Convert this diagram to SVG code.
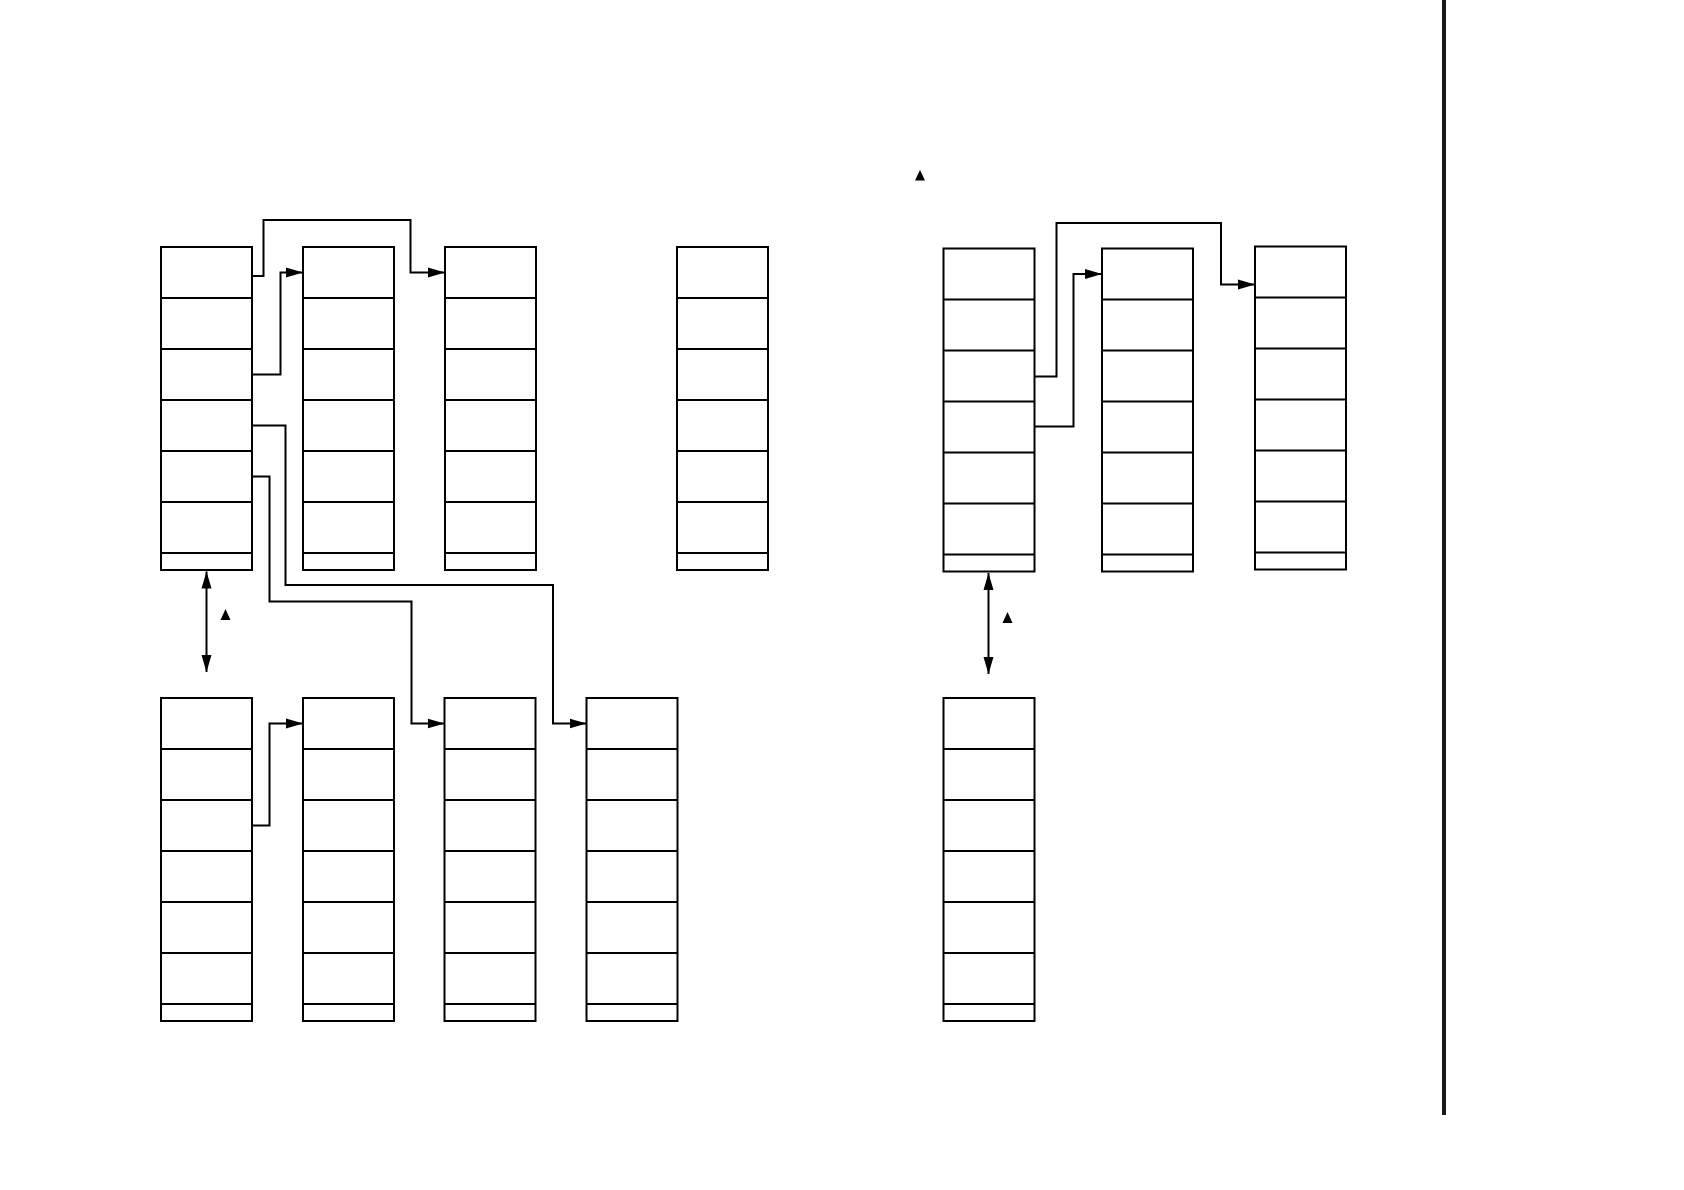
<svg xmlns="http://www.w3.org/2000/svg" width="1684" height="1190" viewBox="0 0 1684 1190">
<style>
.box rect{fill:#fff;stroke:#000;stroke-width:2}
.box path{fill:none;stroke:#000;stroke-width:2}
.conn{fill:none;stroke:#000;stroke-width:2}
.tri{fill:#000}
</style>
<defs>
<path id="cells" d="M0,51H91M0,102H91M0,153H91M0,204H91M0,255H91M0,306H91"/>
<marker id="arr" markerUnits="userSpaceOnUse" markerWidth="18" markerHeight="12" viewBox="0 0 18 12" refX="17" refY="6" orient="auto-start-reverse">
<path d="M0,1L17,6L0,11Z" fill="#000"/>
</marker>
</defs>
<rect width="1684" height="1190" fill="#fff"/>
<g id="box-A" class="box" transform="translate(161,247)"><rect width="91" height="323"/><use href="#cells" stroke="#000" stroke-width="2"/></g>
<g id="box-B" class="box" transform="translate(303,247)"><rect width="91" height="323"/><use href="#cells" stroke="#000" stroke-width="2"/></g>
<g id="box-C" class="box" transform="translate(445,247)"><rect width="91" height="323"/><use href="#cells" stroke="#000" stroke-width="2"/></g>
<g id="box-E" class="box" transform="translate(677,247)"><rect width="91" height="323"/><use href="#cells" stroke="#000" stroke-width="2"/></g>
<g id="box-F" class="box" transform="translate(943.5,248.5)"><rect width="91" height="323"/><use href="#cells" stroke="#000" stroke-width="2"/></g>
<g id="box-G" class="box" transform="translate(1102,248.5)"><rect width="91" height="323"/><use href="#cells" stroke="#000" stroke-width="2"/></g>
<g id="box-H" class="box" transform="translate(1255,246.5)"><rect width="91" height="323"/><use href="#cells" stroke="#000" stroke-width="2"/></g>
<g id="box-A2" class="box" transform="translate(161,698)"><rect width="91" height="323"/><use href="#cells" stroke="#000" stroke-width="2"/></g>
<g id="box-B2" class="box" transform="translate(303,698)"><rect width="91" height="323"/><use href="#cells" stroke="#000" stroke-width="2"/></g>
<g id="box-C2" class="box" transform="translate(444.5,698)"><rect width="91" height="323"/><use href="#cells" stroke="#000" stroke-width="2"/></g>
<g id="box-D2" class="box" transform="translate(586.5,698)"><rect width="91" height="323"/><use href="#cells" stroke="#000" stroke-width="2"/></g>
<g id="box-I" class="box" transform="translate(943.5,698)"><rect width="91" height="323"/><use href="#cells" stroke="#000" stroke-width="2"/></g>
<g id="connectors">
<path class="conn" d="M252,276H263.5V220H410.5V272.5H445" marker-end="url(#arr)"/>
<path class="conn" d="M252,374.5H280.5V272.5H303" marker-end="url(#arr)"/>
<path class="conn" d="M252,425.5H285.5V585H553V723.5H586.5" marker-end="url(#arr)"/>
<path class="conn" d="M252,476.5H269.5V601.5H411.5V723.5H444.5" marker-end="url(#arr)"/>
<path class="conn" d="M252,825.5H269.5V723.5H303" marker-end="url(#arr)"/>
<path class="conn" d="M206.5,571.5V672" marker-start="url(#arr)" marker-end="url(#arr)"/>
<path class="conn" d="M1034.5,376.5H1056.5V223H1221V284.5H1255" marker-end="url(#arr)"/>
<path class="conn" d="M1034.5,426.5H1073.5V274H1102" marker-end="url(#arr)"/>
<path class="conn" d="M988.5,573V674" marker-start="url(#arr)" marker-end="url(#arr)"/>
</g>
<polygon class="tri" points="225.5,609 220.5,620 230.5,620"/>
<polygon class="tri" points="1007.5,612 1002.5,623 1012.5,623"/>
<polygon class="tri" points="920,170 915,180.5 925,180.5"/>
<rect x="1442" y="0" width="4" height="1115" fill="#1a1a1a"/>
</svg>
